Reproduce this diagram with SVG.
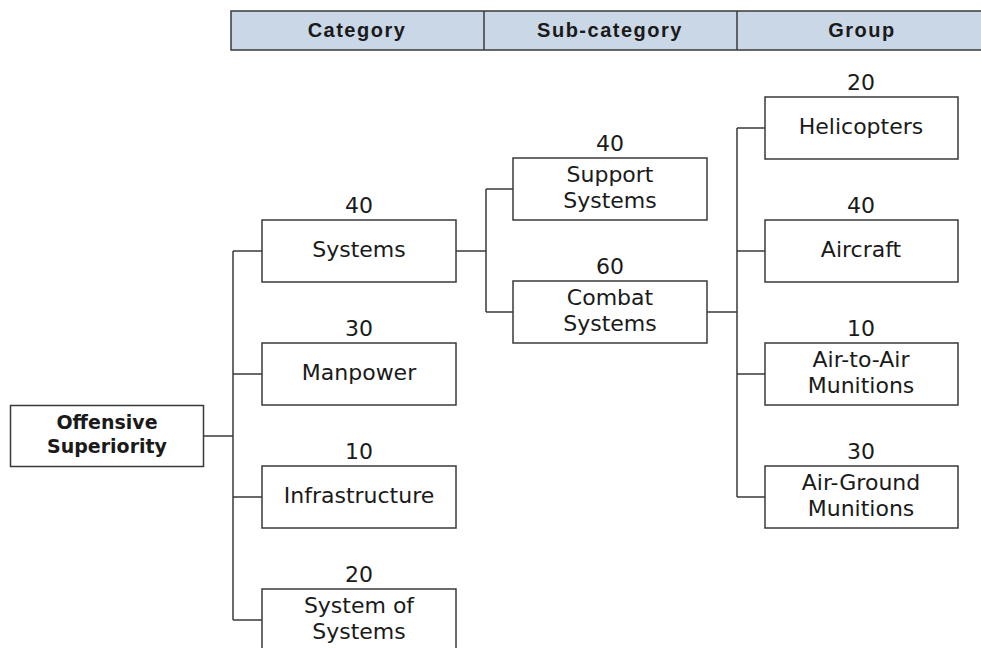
<svg xmlns="http://www.w3.org/2000/svg" width="981" height="648" viewBox="0 0 981 648">
<style>
.box{fill:#ffffff;stroke:#3a3a3a;stroke-width:1.5}
.hdr{fill:#c9d7e6;stroke:#3a3a3a;stroke-width:1.5}
.ln{fill:none;stroke:#3a3a3a;stroke-width:1.5}
.t{font-family:"DejaVu Sans",sans-serif;font-size:22px;fill:#1a1a1a;text-anchor:middle}
.h{font-family:"Liberation Sans",Arial,sans-serif;font-size:20px;font-weight:bold;letter-spacing:1.5px;fill:#1a1a1a;text-anchor:middle}
.r{font-family:"DejaVu Sans",sans-serif;font-size:19px;font-weight:bold;fill:#1a1a1a;text-anchor:middle}
</style>
<rect width="981" height="648" fill="#ffffff"/>
<g id="header">
<rect class="hdr" x="231" y="11" width="770" height="39"/>
<line class="ln" x1="484" y1="11" x2="484" y2="50"/>
<line class="ln" x1="737" y1="11" x2="737" y2="50"/>
<text class="h" x="357" y="37">Category</text>
<text class="h" x="610" y="37">Sub-category</text>
<text class="h" x="862" y="37">Group</text>
</g>
<g id="connectors">
<path class="ln" d="M204,436 H233 M233,251 V620 M233,251 H262 M233,374 H262 M233,497 H262 M233,620 H262"/>
<path class="ln" d="M456,251 H486 M486,189 V312 M486,189 H513 M486,312 H513"/>
<path class="ln" d="M707,312 H737 M737,128 V497 M737,128 H765 M737,251 H765 M737,374 H765 M737,497 H765"/>
</g>
<g id="root">
<rect class="box" x="10.5" y="405.5" width="193" height="61"/>
<text class="r" x="107" y="429">Offensive</text>
<text class="r" x="107" y="453">Superiority</text>
</g>
<g id="systems">
<text class="t" x="359" y="213">40</text>
<rect class="box" x="262" y="220" width="194" height="62"/>
<text class="t" x="359" y="257">Systems</text>
</g>
<g id="manpower">
<text class="t" x="359" y="336">30</text>
<rect class="box" x="262" y="343" width="194" height="62"/>
<text class="t" x="359" y="380">Manpower</text>
</g>
<g id="infrastructure">
<text class="t" x="359" y="459">10</text>
<rect class="box" x="262" y="466" width="194" height="62"/>
<text class="t" x="359" y="503">Infrastructure</text>
</g>
<g id="system-of-systems">
<text class="t" x="359" y="582">20</text>
<rect class="box" x="262" y="589" width="194" height="62"/>
<text class="t" x="359" y="613">System of</text>
<text class="t" x="359" y="639">Systems</text>
</g>
<g id="support-systems">
<text class="t" x="610" y="151">40</text>
<rect class="box" x="513" y="158" width="194" height="62"/>
<text class="t" x="610" y="182">Support</text>
<text class="t" x="610" y="208">Systems</text>
</g>
<g id="combat-systems">
<text class="t" x="610" y="274">60</text>
<rect class="box" x="513" y="281" width="194" height="62"/>
<text class="t" x="610" y="305">Combat</text>
<text class="t" x="610" y="331">Systems</text>
</g>
<g id="helicopters">
<text class="t" x="861" y="90">20</text>
<rect class="box" x="765" y="97" width="193" height="62"/>
<text class="t" x="861" y="134">Helicopters</text>
</g>
<g id="aircraft">
<text class="t" x="861" y="213">40</text>
<rect class="box" x="765" y="220" width="193" height="62"/>
<text class="t" x="861" y="257">Aircraft</text>
</g>
<g id="air-to-air">
<text class="t" x="861" y="336">10</text>
<rect class="box" x="765" y="343" width="193" height="62"/>
<text class="t" x="861" y="367">Air-to-Air</text>
<text class="t" x="861" y="393">Munitions</text>
</g>
<g id="air-ground">
<text class="t" x="861" y="459">30</text>
<rect class="box" x="765" y="466" width="193" height="62"/>
<text class="t" x="861" y="490">Air-Ground</text>
<text class="t" x="861" y="516">Munitions</text>
</g>
</svg>
